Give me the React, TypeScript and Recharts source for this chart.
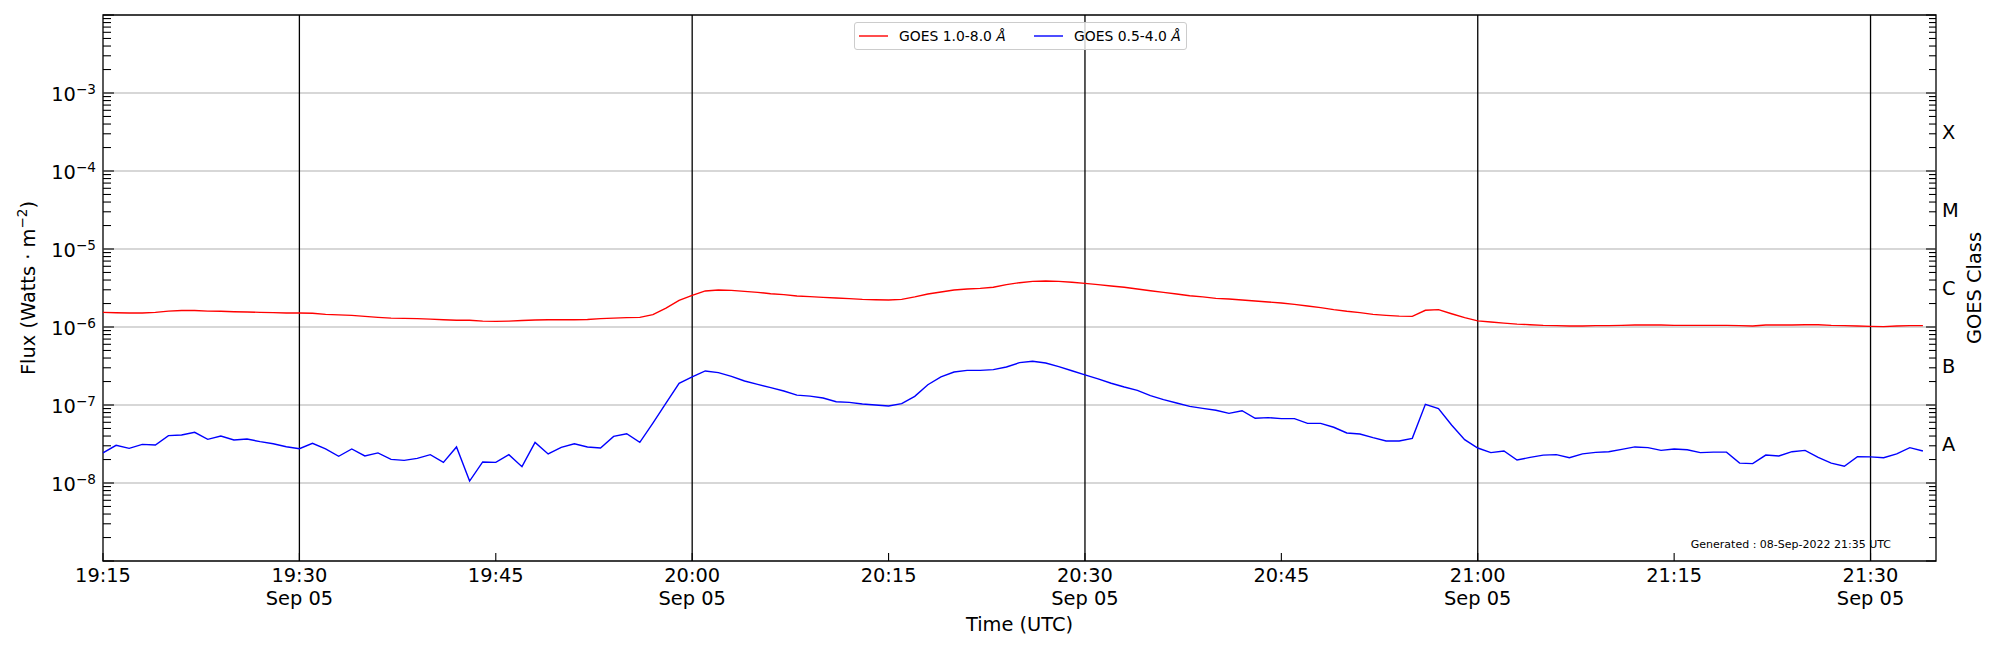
import React from "react";
import { LineChart, Line, XAxis, YAxis, ReferenceLine, ReferenceArea, Legend } from "recharts";

const FONT = "'DejaVu Sans', 'Liberation Sans', sans-serif";

// ---- data (1-minute cadence starting 19:15 UTC, 05 Sep 2022) ----
const cadenceMinutes = 1;

// GOES 1.0-8.0 Å flux, in units of 1e-6 W m^-2
const xrsbFluxE6 = [
  1.54, 1.52, 1.51, 1.51, 1.54, 1.60, 1.63, 1.63, 1.60, 1.59,
  1.57, 1.56, 1.54, 1.53, 1.51, 1.51, 1.50, 1.45, 1.43, 1.41,
  1.37, 1.33, 1.30, 1.29, 1.28, 1.26, 1.24, 1.22, 1.22, 1.19,
  1.18, 1.19, 1.21, 1.23, 1.24, 1.24, 1.24, 1.25, 1.28, 1.30,
  1.32, 1.33, 1.44, 1.75, 2.20, 2.55, 2.90, 2.98, 2.95, 2.86,
  2.78, 2.67, 2.60, 2.50, 2.45, 2.40, 2.35, 2.31, 2.26, 2.24,
  2.22, 2.26, 2.43, 2.65, 2.81, 2.98, 3.07, 3.13, 3.23, 3.49,
  3.70, 3.85, 3.89, 3.85, 3.74, 3.63, 3.49, 3.36, 3.23, 3.07,
  2.92, 2.78, 2.65, 2.52, 2.43, 2.33, 2.29, 2.22, 2.15, 2.09,
  2.03, 1.95, 1.86, 1.77, 1.67, 1.59, 1.53, 1.45, 1.41, 1.38,
  1.37, 1.64, 1.67, 1.48, 1.32, 1.20, 1.16, 1.12, 1.09, 1.07,
  1.05, 1.04, 1.03, 1.03, 1.04, 1.04, 1.05, 1.06, 1.06, 1.06,
  1.05, 1.05, 1.05, 1.05, 1.05, 1.04, 1.03, 1.06, 1.06, 1.06,
  1.07, 1.07, 1.05, 1.04, 1.03, 1.02, 1.01, 1.03, 1.04, 1.04,
];

// GOES 0.5-4.0 Å flux, in units of 1e-8 W m^-2
const xrsaFluxE8 = [
  2.43, 3.04, 2.78, 3.13, 3.07, 4.05, 4.12, 4.46, 3.63, 4.00,
  3.56, 3.66, 3.39, 3.19, 2.92, 2.75, 3.23, 2.73, 2.20, 2.73,
  2.22, 2.43, 2.01, 1.95, 2.07, 2.31, 1.84, 2.90, 1.06, 1.86,
  1.84, 2.31, 1.62, 3.32, 2.36, 2.87, 3.19, 2.90, 2.81, 3.96,
  4.28, 3.32, 5.87, 10.6, 19.0, 22.9, 27.3, 26.0, 23.3, 20.3,
  18.4, 16.7, 15.1, 13.4, 13.0, 12.3, 11.0, 10.8, 10.3, 10.0,
  9.7, 10.4, 12.9, 18.2, 22.9, 26.5, 27.8, 27.8, 28.4, 30.7,
  34.9, 36.3, 34.5, 31.0, 27.5, 24.3, 21.6, 19.0, 17.0, 15.4,
  13.2, 11.7, 10.6, 9.6, 9.06, 8.55, 7.82, 8.45, 6.75, 6.89,
  6.68, 6.68, 5.82, 5.82, 5.18, 4.38, 4.25, 3.81, 3.45, 3.45,
  3.74, 10.2, 8.98, 5.55, 3.60, 2.81, 2.45, 2.57, 1.97, 2.13,
  2.28, 2.31, 2.11, 2.36, 2.47, 2.52, 2.70, 2.90, 2.84, 2.62,
  2.73, 2.67, 2.45, 2.49, 2.49, 1.80, 1.77, 2.28, 2.22, 2.52,
  2.62, 2.13, 1.80, 1.64, 2.18, 2.16, 2.11, 2.36, 2.84, 2.57,
];

const seriesNames = ["GOES 1.0-8.0 Å", "GOES 0.5-4.0 Å"];
const seriesColors = ["#ff0000", "#0000ff"];

// x axis: minutes after 19:15 UTC
const xDomain = [0, 140];
const timeTicks = [0, 15, 30, 45, 60, 75, 90, 105, 120, 135];
const timeTickLabels = ["19:15", "19:30", "19:45", "20:00", "20:15", "20:30", "20:45", "21:00", "21:15", "21:30"];
const dateTickLabels = ["", "Sep 05", "", "Sep 05", "", "Sep 05", "", "Sep 05", "", "Sep 05"];
const verticalMarkers = [15, 45, 75, 105, 135];

// y axis (log)
const fluxDomain = [1e-9, 1e-2];
const decadeExponents = [-9, -8, -7, -6, -5, -4, -3];
const labelledExponents = [-8, -7, -6, -5, -4, -3];
const gridExponents = [-8, -7, -6, -5, -4, -3];
const minorMantissas = [1, 2, 3, 4, 5, 6, 7, 8, 9];
const goesClassLetters = ["A", "B", "C", "M", "X"];
const goesClassThresholds = [1e-8, 1e-7, 1e-6, 1e-5, 1e-4];

const generatedNote = "Generated : 08-Sep-2022 21:35 UTC";
const xAxisTitle = "Time (UTC)";
const rightAxisTitle = "GOES Class";

// ---- derived tables ----
const data = xrsbFluxE6.map((v, i) => ({
  t: i * cadenceMinutes,
  xrsb: v * 1e-6,
  xrsa: xrsaFluxE8[i] * 1e-8,
}));

const pow10 = (e: number) => Number(`1e${e}`);
const fluxTicks: number[] = [
  ...decadeExponents.flatMap((e) => minorMantissas.map((m) => m * pow10(e))),
  pow10(-2),
];
const classPositions = goesClassThresholds.map((t) => t * Math.sqrt(10));
const goesTicks = [...fluxTicks, ...classPositions];

const isDecade = (v: number) => {
  const l = Math.log10(v);
  return Math.abs(l - Math.round(l)) < 1e-6;
};

const BIG = 19.4;

const TimeTick = (props: any) => {
  const { x, y, payload } = props;
  const i = timeTicks.indexOf(payload.value);
  return (
    <g>
      <line x1={x} x2={x} y1={y} y2={y - 8} stroke="#000" strokeWidth={1.1} />
      <text x={x} y={y + 21} textAnchor="middle" fontFamily={FONT} fontSize={BIG} fill="#000">
        {timeTickLabels[i]}
      </text>
      {dateTickLabels[i] ? (
        <text x={x} y={y + 44} textAnchor="middle" fontFamily={FONT} fontSize={BIG} fill="#000">
          {dateTickLabels[i]}
        </text>
      ) : null}
    </g>
  );
};

const LEFT_MARGIN = 7;
const FluxTick = (props: any) => {
  const { x, y, payload } = props;
  const v = payload.value;
  const spine = x + LEFT_MARGIN;
  const major = isDecade(v);
  const exp = Math.round(Math.log10(v));
  return (
    <g>
      <line x1={spine} x2={spine + (major ? 11 : 8)} y1={y} y2={y} stroke="#000" strokeWidth={1.1} />
      {major && labelledExponents.includes(exp) ? (
        <text x={x} y={y + 8.4} textAnchor="end" fontFamily={FONT} fontSize={BIG} fill="#000">
          <tspan>10</tspan>
          <tspan dy={-7.7} fontSize={13.6}>{`\u2212${Math.abs(exp)}`}</tspan>
        </text>
      ) : null}
    </g>
  );
};

const RIGHT_MARGIN = 6;
const GoesTick = (props: any) => {
  const { x, y, payload } = props;
  const v = payload.value;
  const idx = classPositions.findIndex((p) => Math.abs(p - v) / p < 1e-6);
  const spine = x - RIGHT_MARGIN;
  if (idx >= 0) {
    return (
      <text x={x} y={y + 7} textAnchor="start" fontFamily={FONT} fontSize={BIG} fill="#000">
        {goesClassLetters[idx]}
      </text>
    );
  }
  const major = isDecade(v);
  return <line x1={spine} x2={spine - (major ? 10 : 7)} y1={y} y2={y} stroke="#000" strokeWidth={1.1} />;
};

const FluxLabel = (props: any) => {
  const vb = props.viewBox;
  const cx = vb.x + 35;
  const cy = vb.y + vb.height / 2;
  return (
    <text
      x={cx}
      y={cy}
      transform={`rotate(-90, ${cx}, ${cy})`}
      textAnchor="middle"
      fontFamily={FONT}
      fontSize={BIG}
      fill="#000"
    >
      <tspan>Flux (Watts · m</tspan>
      <tspan dy={-7.7} fontSize={13.6}>{"\u22122"}</tspan>
      <tspan dy={7.7}>)</tspan>
    </text>
  );
};

const GoesLabel = (props: any) => {
  const vb = props.viewBox;
  const cx = vb.x + 45;
  const cy = vb.y + vb.height / 2;
  return (
    <text
      x={cx}
      y={cy}
      transform={`rotate(-90, ${cx}, ${cy})`}
      textAnchor="middle"
      fontFamily={FONT}
      fontSize={BIG}
      fill="#000"
    >
      {rightAxisTitle}
    </text>
  );
};

const TimeLabel = (props: any) => {
  const vb = props.viewBox;
  return (
    <text x={vb.x + vb.width / 2} y={vb.y + 70} textAnchor="middle" fontFamily={FONT} fontSize={BIG} fill="#000">
      {xAxisTitle}
    </text>
  );
};

const NoteLabel = (props: any) => {
  const vb = props.viewBox;
  return (
    <text
      x={vb.x + vb.width - 45}
      y={vb.y + vb.height - 12.7}
      textAnchor="end"
      fontFamily={FONT}
      fontSize={11}
      fill="#000"
    >
      {generatedNote}
    </text>
  );
};

const LegendBox = (props: any) => {
  const raw = props.payload || [];
  const payload = [...raw].sort(
    (a: any, b: any) => seriesNames.indexOf(String(a.value)) - seriesNames.indexOf(String(b.value))
  );
  return (
    <div
      style={{
        boxSizing: "border-box",
        width: 333,
        height: 28,
        border: "1px solid #cccccc",
        borderRadius: 3,
        background: "rgba(255,255,255,0.8)",
        position: "relative",
        fontFamily: FONT,
        fontSize: 13.9,
        color: "#000",
      }}
    >
      {payload.map((entry: any, i: number) => {
        const label = String(entry.value);
        const base = label.replace(/\s*Å$/, "");
        return (
          <div
            key={i}
            style={{
              position: "absolute",
              left: 4 + i * 175,
              top: 0,
              height: 26,
              display: "flex",
              alignItems: "center",
              whiteSpace: "nowrap",
            }}
          >
            <svg width={29} height={4} style={{ display: "block" }}>
              <line x1={0} x2={29} y1={2} y2={2} stroke={entry.color} strokeWidth={1.4} />
            </svg>
            <span style={{ marginLeft: 11 }}>
              {base} <i>Å</i>
            </span>
          </div>
        );
      })}
    </div>
  );
};

export default function App() {
  return (
    <div style={{ position: "absolute", left: 0, top: 0, width: 2000, height: 650, background: "#fff" }}>
      <LineChart width={2000} height={650} data={data} margin={{ top: 15, right: 0, bottom: 0, left: 0 }}>
        <XAxis
          dataKey="t"
          type="number"
          domain={xDomain}
          ticks={timeTicks}
          interval={0}
          allowDataOverflow
          height={89}
          tickSize={0}
          tickMargin={0}
          tickLine={false}
          axisLine={false}
          tick={<TimeTick />}
          label={<TimeLabel />}
        />
        <YAxis
          yAxisId="flux"
          orientation="left"
          scale="log"
          type="number"
          domain={fluxDomain}
          allowDataOverflow
          ticks={fluxTicks}
          interval={0}
          width={103}
          tickSize={0}
          tickMargin={LEFT_MARGIN}
          tickLine={false}
          axisLine={false}
          tick={<FluxTick />}
          label={<FluxLabel />}
        />
        <YAxis
          yAxisId="goes"
          orientation="right"
          scale="log"
          type="number"
          domain={fluxDomain}
          allowDataOverflow
          ticks={goesTicks}
          interval={0}
          width={64}
          tickSize={0}
          tickMargin={RIGHT_MARGIN}
          tickLine={false}
          axisLine={false}
          tick={<GoesTick />}
          label={<GoesLabel />}
        />
        {gridExponents.map((e) => (
          <ReferenceLine key={`g${e}`} yAxisId="flux" y={pow10(e)} stroke="#b0b0b0" strokeWidth={1.1} />
        ))}
        {verticalMarkers.map((m) => (
          <ReferenceLine key={`v${m}`} yAxisId="flux" x={m} stroke="#000" strokeWidth={1.3} />
        ))}
        <Line
          yAxisId="flux"
          type="linear"
          dataKey="xrsb"
          name={seriesNames[0]}
          stroke={seriesColors[0]}
          strokeWidth={1.4}
          dot={false}
          activeDot={false}
          isAnimationActive={false}
        />
        <Line
          yAxisId="goes"
          type="linear"
          dataKey="xrsa"
          name={seriesNames[1]}
          stroke={seriesColors[1]}
          strokeWidth={1.4}
          dot={false}
          activeDot={false}
          isAnimationActive={false}
        />
        <ReferenceArea
          yAxisId="flux"
          x1={xDomain[0]}
          x2={xDomain[1]}
          y1={fluxDomain[0]}
          y2={fluxDomain[1]}
          fill="none"
          fillOpacity={0}
          stroke="#000"
          strokeWidth={1.3}
          label={<NoteLabel />}
        />
        <Legend
          layout="horizontal"
          verticalAlign="middle"
          align="center"
          content={<LegendBox />}
          wrapperStyle={{ top: 22, left: 854, width: 333, height: 28 }}
        />
      </LineChart>
    </div>
  );
}
